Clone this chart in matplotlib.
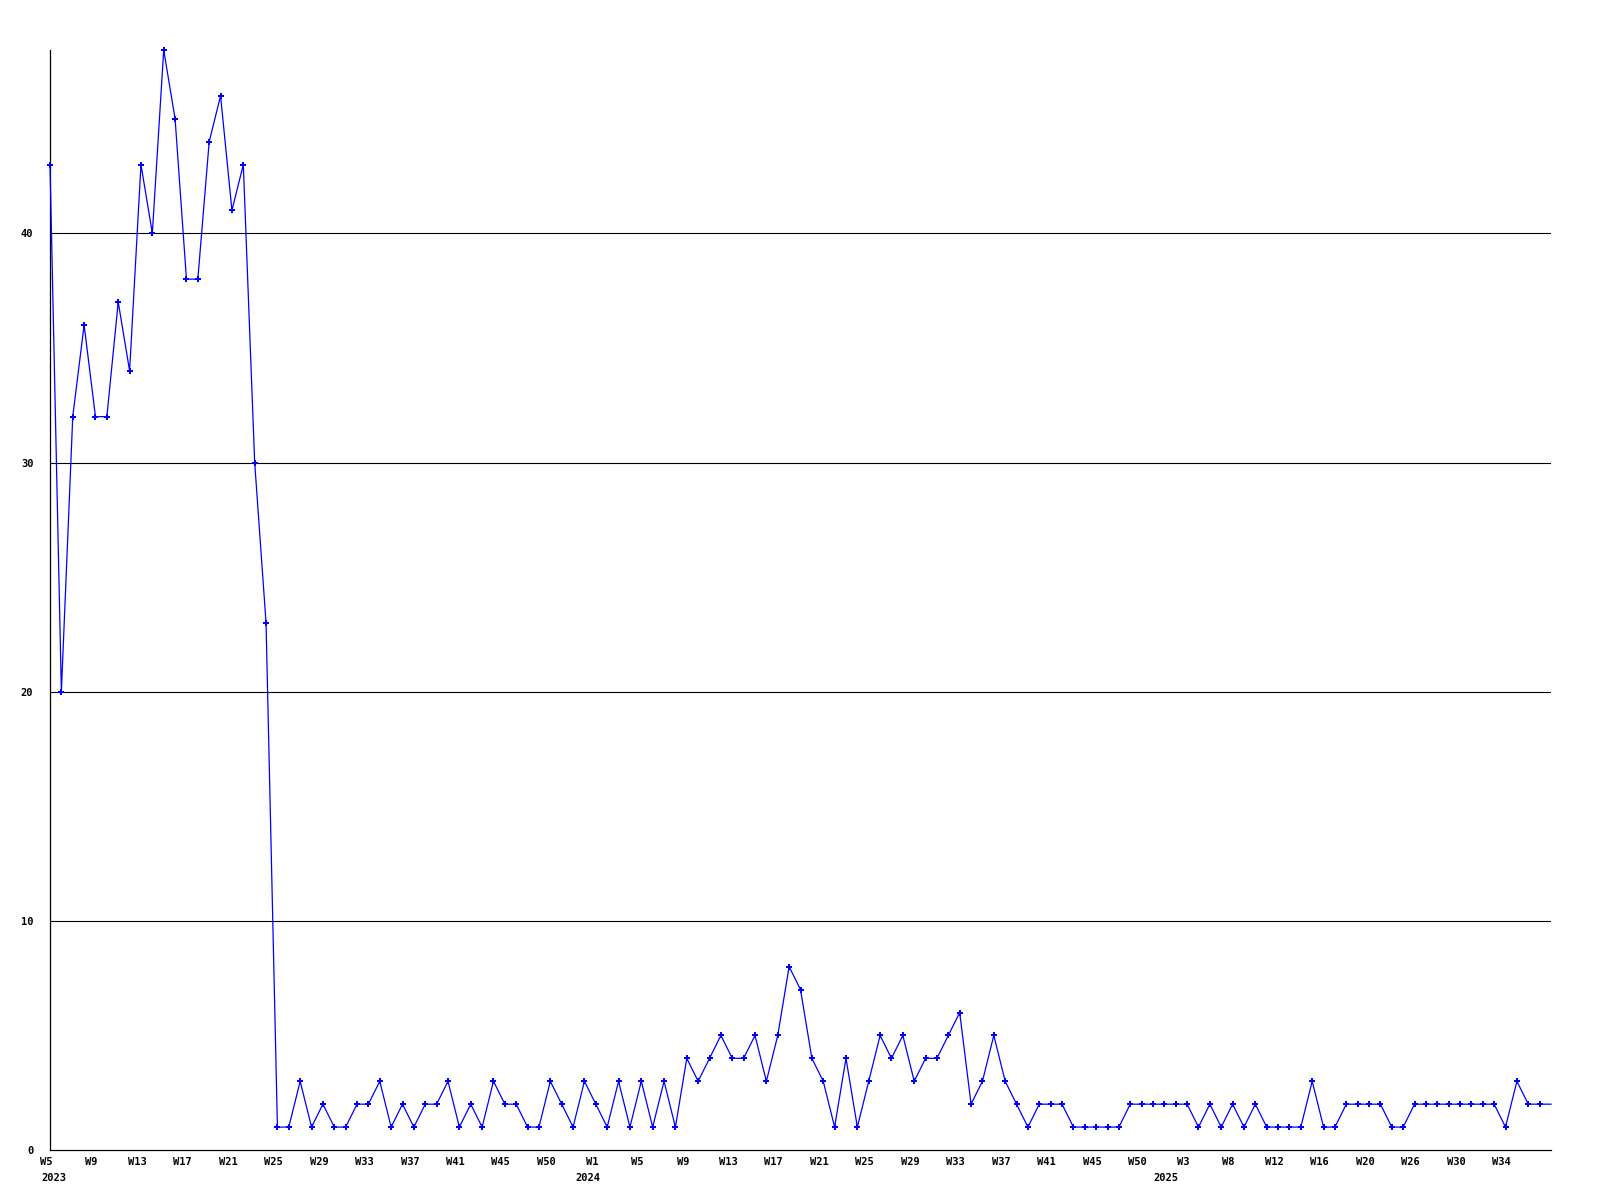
import numpy as np
import matplotlib
matplotlib.use("Agg")
from matplotlib import pyplot as plt
from matplotlib.transforms import ScaledTranslation

# Weekly counts, one value per plotted week (last week has no marker)
counts = [
    43, 20, 32, 36, 32, 32, 37, 34, 43, 40, 48, 45, 38, 38, 44, 46, 41, 43, 30, 23,
    1, 1, 3, 1, 2, 1, 1, 2, 2, 3, 1, 2, 1, 2, 2, 3, 1, 2, 1, 3,
    2, 2, 1, 1, 3, 2, 1, 3, 2, 1, 3, 1, 3, 1, 3, 1, 4, 3, 4, 5,
    4, 4, 5, 3, 5, 8, 7, 4, 3, 1, 4, 1, 3, 5, 4, 5, 3, 4, 4, 5,
    6, 2, 3, 5, 3, 2, 1, 2, 2, 2, 1, 1, 1, 1, 1, 2, 2, 2, 2, 2,
    2, 1, 2, 1, 2, 1, 2, 1, 1, 1, 1, 3, 1, 1, 2, 2, 2, 2, 1, 1,
    2, 2, 2, 2, 2, 2, 2, 2, 1, 3, 2, 2, 2,
]

# Week labels, shown on every 4th point
week_labels = [
    "W5", "W9", "W13", "W17", "W21", "W25", "W29", "W33", "W37", "W41", "W45", "W50",
    "W1", "W5", "W9", "W13", "W17", "W21", "W25", "W29", "W33", "W37", "W41", "W45", "W50",
    "W3", "W8", "W12", "W16", "W20", "W26", "W30", "W34",
]
label_step = 4

years = ["2023", "2024", "2025"]
year_at = [0.3, 47.3, 98.1]

y_ticks = [0, 10, 20, 30, 40]

blue = "#0000ff"
font = dict(family="DejaVu Sans Mono", weight="bold", fontsize=7.5)

fig = plt.figure(figsize=(16, 12), dpi=100)
ax = fig.add_axes([50 / 1600, 50 / 1200, 1501 / 1600, 1100 / 1200])

x = np.arange(len(counts))
ax.plot(x, counts, color=blue, linewidth=0.9, marker="P", markersize=4.6,
        markevery=list(range(len(counts) - 1)), markeredgewidth=0,
        zorder=3, clip_on=False)

ax.set_xlim(0, len(counts) - 1)
ax.set_ylim(0, 48)

# horizontal grid
for yv in y_ticks[1:]:
    ax.axhline(yv, color="black", linewidth=0.8, zorder=1)

for side in ("top", "right"):
    ax.spines[side].set_visible(False)
for side in ("left", "bottom"):
    ax.spines[side].set_color("black")
    ax.spines[side].set_linewidth(0.9)

ax.set_yticks(y_ticks)
ax.set_yticklabels([str(v) for v in y_ticks], **font)
ax.tick_params(axis="y", length=0, pad=12)

ax.set_xticks(np.arange(0, len(week_labels) * label_step, label_step))
ax.set_xticklabels(week_labels, **font)
ax.tick_params(axis="x", length=0, pad=5)
shift = ScaledTranslation(-4 / 100, 0, fig.dpi_scale_trans)
for lbl in ax.get_xticklabels():
    lbl.set_transform(lbl.get_transform() + shift)

trans = ax.get_xaxis_transform()
for yr, pos in zip(years, year_at):
    ax.text(pos, -28 / 1100, yr, transform=trans, ha="center", va="center",
            clip_on=False, **font)

fig.savefig("out.png", dpi=100, facecolor="white")
